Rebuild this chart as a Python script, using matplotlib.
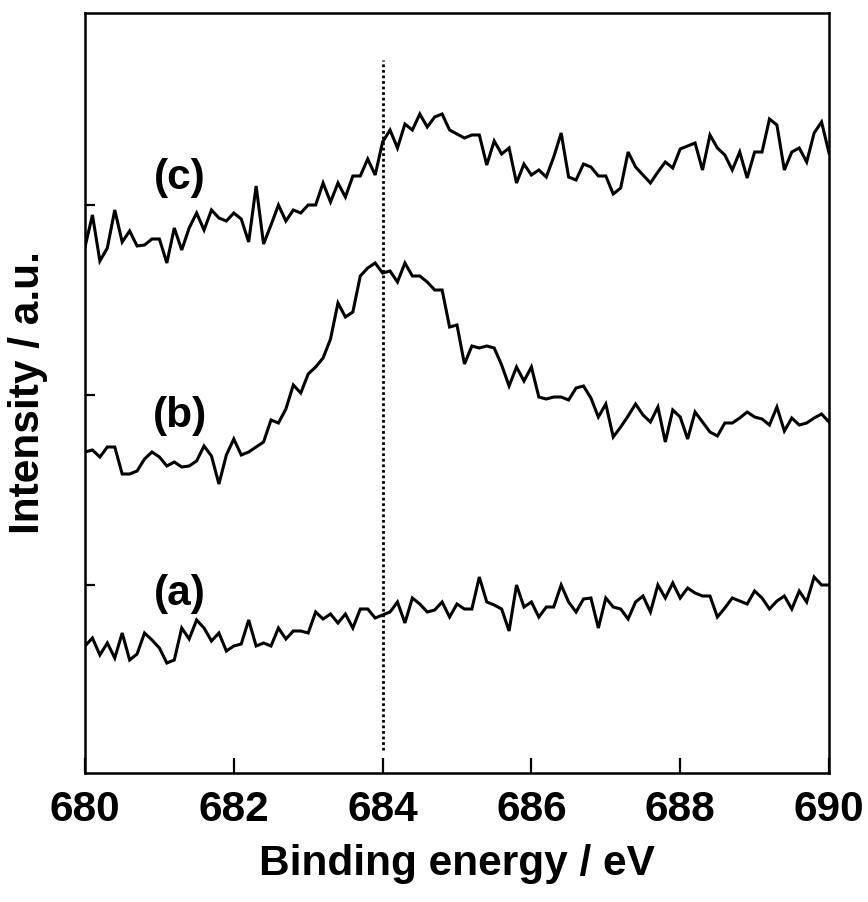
import numpy as np
import matplotlib
matplotlib.use("Agg")
import matplotlib.pyplot as plt

plt.rcParams['font.family'] = ['Liberation Sans', 'DejaVu Sans']
plt.rcParams['font.weight'] = 'bold'

# Binding energy grid (eV), 0.1 eV steps from 680 to 690
energy = np.linspace(680.0, 690.0, 101)

# Intensity (a.u.)
spec_a = [127, 135, 118, 130, 115, 140, 113, 119, 140, 133,
          125, 110, 113, 145, 134, 153, 145, 132, 140, 122,
          127, 129, 153, 127, 130, 127, 145, 134, 142, 142,
          140, 161, 154, 159, 150, 159, 145, 164, 164, 155,
          158, 161, 171, 150, 175, 169, 161, 163, 171, 156,
          169, 164, 164, 196, 171, 168, 164, 142, 188, 166,
          171, 156, 166, 166, 188, 171, 161, 174, 175, 145,
          175, 166, 164, 154, 171, 177, 161, 188, 175, 190,
          175, 185, 180, 177, 177, 156, 165, 175, 172, 169,
          182, 175, 164, 172, 177, 164, 182, 171, 196, 188,
          188]

spec_b = [321, 323, 316, 326, 326, 299, 299, 302, 314, 321,
          316, 307, 311, 306, 307, 312, 327, 317, 289, 318,
          334, 318, 321, 326, 331, 353, 350, 364, 388, 380,
          399, 406, 415, 434, 470, 456, 461, 497, 505, 510,
          500, 502, 491, 510, 497, 497, 491, 483, 483, 446,
          448, 409, 427, 425, 427, 425, 408, 387, 406, 392,
          406, 376, 374, 376, 376, 373, 385, 387, 375, 356,
          369, 336, 346, 357, 369, 358, 351, 366, 331, 363,
          356, 334, 361, 351, 341, 337, 350, 350, 355, 361,
          356, 354, 348, 366, 342, 355, 348, 350, 355, 359,
          351]

spec_c = [526, 558, 512, 525, 563, 531, 542, 527, 528, 534,
          534, 510, 545, 523, 545, 560, 543, 563, 555, 552,
          560, 554, 531, 587, 529, 548, 568, 552, 563, 560,
          568, 568, 590, 571, 590, 576, 597, 597, 614, 598,
          631, 643, 625, 649, 643, 659, 646, 656, 659, 643,
          639, 635, 638, 638, 608, 632, 619, 625, 590, 609,
          598, 603, 596, 616, 640, 596, 593, 609, 606, 597,
          597, 579, 585, 621, 606, 598, 590, 601, 611, 605,
          624, 627, 630, 603, 638, 625, 618, 603, 621, 595,
          621, 621, 654, 648, 603, 621, 625, 611, 640, 651,
          620]

curve_labels = ['(a)', '(b)', '(c)']
label_pos_energy = [681.28, 681.28, 681.28]
label_pos_intensity = [179, 357, 595]
ref_energy = 684.0
ref_span = [23, 713]
xticks = [680, 682, 684, 686, 688, 690]
yticks = [188, 378, 568]

W, H = 868, 902
fig = plt.figure(figsize=(W / 100, H / 100), dpi=100)
ax = fig.add_axes([85 / W, (H - 773) / H, (829 - 85) / W, (773 - 13) / H])

for s in (spec_a, spec_b, spec_c):
    ax.plot(energy, s, color='black', lw=2.2, solid_joinstyle='miter')

ax.plot([ref_energy, ref_energy], ref_span, color='black', lw=2.0,
        linestyle=(0, (1, 1)))

for lab, xe, yi in zip(curve_labels, label_pos_energy, label_pos_intensity):
    ax.text(xe, yi, lab, fontsize=30.5, fontweight='bold', ha='center', va='center')

ax.set_xlim(680, 690)
ax.set_ylim(0, 760)
ax.set_xticks(xticks)
ax.set_xticklabels([str(t) for t in xticks])
ax.set_yticks(yticks)
ax.set_yticklabels([])
ax.tick_params(axis='x', direction='in', length=11, width=1.6, pad=12,
               labelsize=30.5)
ax.tick_params(axis='y', direction='in', length=7, width=1.6)
for sp in ax.spines.values():
    sp.set_linewidth(1.8)

ax.set_xlabel('Binding energy / eV', fontsize=30.5, fontweight='bold', labelpad=10)
ax.set_ylabel('Intensity / a.u.', fontsize=30.5, fontweight='bold', labelpad=23)

fig.savefig('out.png', dpi=100)
